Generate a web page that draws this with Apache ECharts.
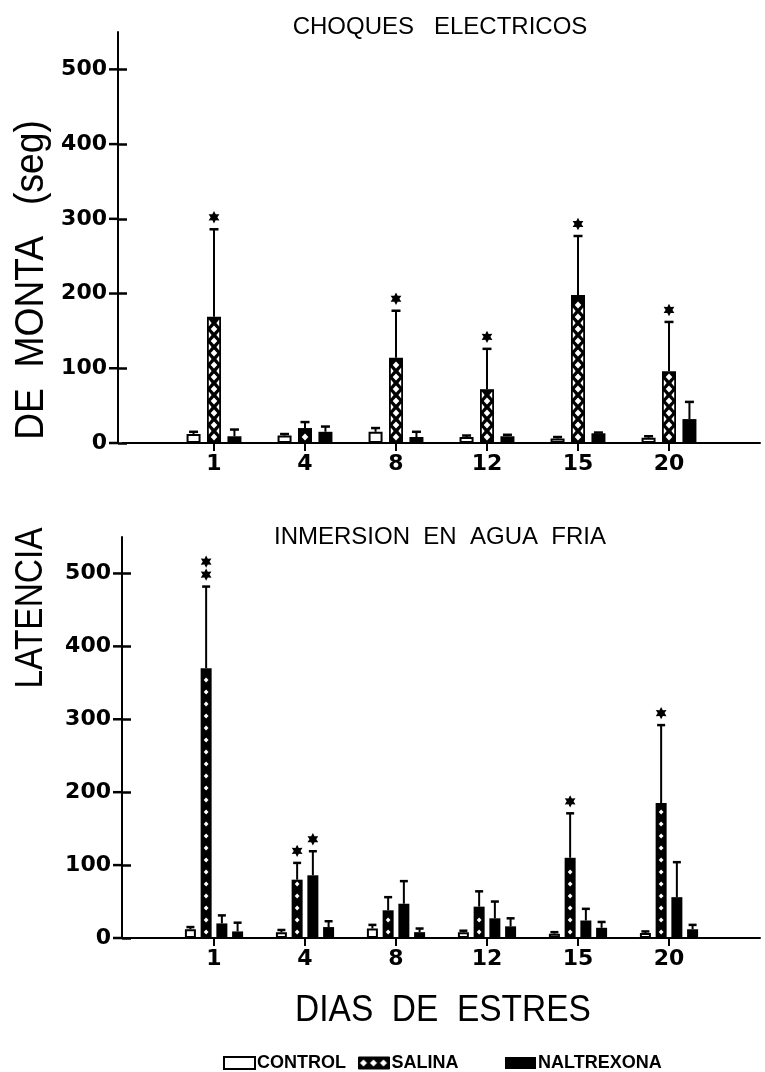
<!DOCTYPE html>
<html><head><meta charset="utf-8">
<script src="https://cdn.jsdelivr.net/npm/echarts@6.0.0/dist/echarts.min.js"></script>
<style>html,body{margin:0;padding:0;background:#fff}#c{width:765px;height:1072px}</style>
</head><body><div id="c"></div>
<script>
// ---------- data ----------
const days = ['1', '4', '8', '12', '15', '20'];
const yTicks = [0, 100, 200, 300, 400, 500];
const yMax = 550;

// CHOQUES ELECTRICOS (top panel): means and upper error
const shockControl = [12, 10, 15, 8, 6, 7];
const shockControlErr = [3, 2, 5, 2, 2, 2];
const shockSalina = [169, 20, 114, 72, 198, 96];
const shockSalinaErr = [117, 8, 63, 54, 79, 66];
const shockNaltrexona = [9, 15, 8, 9, 13, 32];
const shockNaltrexonaErr = [9, 7, 7, 2, 1, 23];
const shockSigSalina = [1, 0, 1, 1, 1, 1];

// INMERSION EN AGUA FRIA (bottom panel)
const coldControl = [12, 8, 13, 8, 6, 7];
const coldControlErr = [3, 3, 5, 2, 2, 2];
const coldSalina = [370, 80, 38, 43, 110, 185];
const coldSalinaErr = [112, 23, 18, 21, 61, 107];
const coldNaltrexona = [20, 86, 47, 27, 24, 56];
const coldNaltrexonaErr = [11, 33, 31, 23, 16, 48];
const coldNaltrexonaB = [9, 15, 8, 16, 14, 12];
const coldNaltrexonaBErr = [12, 8, 5, 11, 8, 6];
const coldSigSalina = [2, 1, 0, 0, 1, 1];
const coldSigNaltrexona = [0, 1, 0, 0, 0, 0];

const legendNames = ['CONTROL', 'SALINA', 'NALTREXONA'];

// ---------- helpers ----------
const cats = [''].concat(days, ['']);
const SANS = '"Liberation Sans", Arial, sans-serif';
const BOLD = '"DejaVu Sans", Verdana, sans-serif';
const GRID_LEFT = 123, GRID_W = 637;
const Y_OFF = [5, 1];

function pairs(arr) { return arr.map((v, i) => [i + 1, v]); }

function makeTile() {
  const c = document.createElement('canvas');
  c.width = 10; c.height = 12;
  const g = c.getContext('2d');
  g.fillStyle = '#000'; g.fillRect(0, 0, 10, 12);
  g.fillStyle = '#fff';
  g.beginPath(); g.moveTo(5, 2.5); g.lineTo(8.5, 6); g.lineTo(5, 9.5); g.lineTo(1.5, 6); g.closePath(); g.fill();
  return c;
}

function starPoints(cx, cy, R, r) {
  const pts = [];
  for (let k = 0; k < 12; k++) {
    const a = -Math.PI / 2 + k * Math.PI / 6;
    const rad = (k % 2) ? r : R;
    pts.push([cx + rad * Math.cos(a), cy + rad * Math.sin(a)]);
  }
  return pts;
}

function diamond(x, y, hw, hh) {
  return { type: 'polygon', shape: { points: [[x, y - hh], [x + hw, y], [x, y + hh], [x - hw, y]] }, style: { fill: '#fff' } };
}

function overlay(o) {
  return {
    type: 'custom', name: o.name + ' err', xAxisIndex: o.grid, yAxisIndex: o.grid,
    z: 5, silent: true, animation: false, clip: false,
    data: o.means.map((m, i) => [i + 1, m, o.errs[i], o.sig ? o.sig[i] : 0]),
    renderItem: function (params, api) {
      const ci = api.value(0), m = api.value(1), e = api.value(2), s = api.value(3);
      const p0 = api.coord([ci, 0]), p1 = api.coord([ci, m]), p2 = api.coord([ci, m + e]);
      const step = o.bw * (1 + o.gap);
      const x = p0[0] + (o.slot - (o.n - 1) / 2) * step;
      const ch = [];
      if (o.pattern === 'cross') {
        for (let y = p0[1] - 6; y - 3.5 >= p1[1] + 1.5; y -= 12) {
          ch.push(diamond(x, y, 3.3, 3.5));
          const yt = y - 6;
          if (yt - 3.5 >= p1[1] + 1.5) {
            const xl = x - o.bw / 2 + 1.8, xr = x + o.bw / 2 - 1.8;
            ch.push({ type: 'polygon', shape: { points: [[xl, yt - 3.5], [xl + 2.8, yt], [xl, yt + 3.5]] }, style: { fill: '#fff' } });
            ch.push({ type: 'polygon', shape: { points: [[xr, yt - 3.5], [xr - 2.8, yt], [xr, yt + 3.5]] }, style: { fill: '#fff' } });
          }
        }
      } else if (o.pattern === 'dots') {
        for (let y = p0[1] - 6; y - 2.5 >= p1[1] + 1.5; y -= 12) {
          ch.push(diamond(x, y, 2.4, 2.6));
        }
      }
      if (e > 0) {
        ch.push({ type: 'line', shape: { x1: x, y1: p1[1], x2: x, y2: p2[1] }, style: { stroke: '#000', lineWidth: 2 } });
        ch.push({ type: 'line', shape: { x1: x - o.cap / 2, y1: p2[1], x2: x + o.cap / 2, y2: p2[1] }, style: { stroke: '#000', lineWidth: 2.5 } });
      }
      for (let k = 0; k < s; k++) {
        ch.push({ type: 'polygon', shape: { points: starPoints(x, p2[1] - 12 - 13 * k, 6.2, 3.4) }, style: { fill: '#000' } });
      }
      return { type: 'group', children: ch };
    }
  };
}

function barSeries(name, grid, data, bw, gap, style) {
  return {
    type: 'bar', name: name, xAxisIndex: grid, yAxisIndex: grid,
    data: pairs(data), barWidth: bw, barGap: gap, itemStyle: style, z: 2, silent: true
  };
}

const ctrlStyle = { color: '#fff', borderColor: '#000', borderWidth: 2 };
const blackStyle = { color: '#000', borderColor: '#000', borderWidth: 0 };

const TB = 14, TG = 0.46;   // top bar width / gap ratio
const BB = 11, BG = 0.43;   // bottom

function xAxisDef(grid) {
  return {
    type: 'category', gridIndex: grid, data: cats, boundaryGap: false,
    axisLine: { show: true, onZero: true, lineStyle: { color: '#000', width: 2 } },
    axisTick: { show: true, length: 8, interval: function (i, v) { return v !== ''; }, lineStyle: { color: '#000', width: 2 } },
    axisLabel: { interval: 0, margin: 10, color: '#000', fontFamily: BOLD, fontWeight: 'bold', fontSize: 22 },
    splitLine: { show: false }
  };
}
// y axis: inner half of the "+" ticks from axisTick (inside), outer half drawn as part of the label
function yAxisDef(grid) {
  return {
    type: 'value', gridIndex: grid, min: 0, max: yMax, interval: 100, position: 'left', offset: Y_OFF[grid],
    axisLine: { show: true, onZero: false, lineStyle: { color: '#000', width: 2 } },
    axisTick: { show: true, inside: true, length: 9, customValues: yTicks, lineStyle: { color: '#000', width: 2.5 } },
    axisLabel: {
      show: true, margin: 0, customValues: yTicks,
      formatter: function (v) { return '{v|' + v + '}{g|}{t|}'; },
      rich: {
        v: { fontFamily: BOLD, fontWeight: 'bold', fontSize: 22, color: '#000' },
        g: { width: 2 },
        t: { width: 9, height: 2.5, backgroundColor: '#000' }
      }
    },
    splitLine: { show: false }
  };
}

const tile = makeTile();
const legendStyles = {
  CONTROL: { color: '#fff', borderColor: '#000', borderWidth: 2 },
  SALINA: { color: { image: tile, repeat: 'repeat' }, borderColor: '#000', borderWidth: 1 },
  NALTREXONA: { color: '#000', borderWidth: 0 }
};
const legendLeft = [223, 358, 505];

const option = {
  animation: false,
  backgroundColor: '#fff',
  title: [
    { text: 'CHOQUES   ELECTRICOS', left: 440, top: 15, textAlign: 'center', padding: 0,
      textStyle: { fontFamily: SANS, fontWeight: 'normal', fontSize: 24, color: '#000' } },
    { text: 'INMERSION  EN  AGUA  FRIA', left: 440, top: 525, textAlign: 'center', padding: 0,
      textStyle: { fontFamily: SANS, fontWeight: 'normal', fontSize: 24, color: '#000' } }
  ],
  legend: legendNames.map((nm, i) => ({
    left: legendLeft[i], top: 1054, orient: 'horizontal', itemWidth: 31, itemHeight: 12, icon: 'rect',
    selectedMode: false, padding: 0,
    textStyle: { fontFamily: SANS, fontWeight: 'bold', fontSize: 18, color: '#000', padding: [0, 0, 0, -3] },
    data: [{ name: nm, itemStyle: legendStyles[nm] }]
  })),
  grid: [
    { left: GRID_LEFT, top: 32, width: GRID_W, height: 411, outerBoundsMode: 'none', containLabel: false },
    { left: GRID_LEFT, top: 537, width: GRID_W, height: 401, outerBoundsMode: 'none', containLabel: false }
  ],
  xAxis: [xAxisDef(0), xAxisDef(1)],
  yAxis: [yAxisDef(0), yAxisDef(1)],
  graphic: [
    { type: 'text', x: 32, y: 280, rotation: Math.PI / 2, scaleX: 0.93, silent: true,
      style: { text: 'DE  MONTA   (seg)', fontFamily: SANS, fontSize: 40, fill: '#000', align: 'center', verticalAlign: 'middle' } },
    { type: 'text', x: 32, y: 608, rotation: Math.PI / 2, scaleX: 0.88, silent: true,
      style: { text: 'LATENCIA', fontFamily: SANS, fontSize: 38, fill: '#000', align: 'center', verticalAlign: 'middle' } },
    { type: 'text', x: 443, y: 1011, scaleX: 0.93, silent: true,
      style: { text: 'DIAS  DE  ESTRES', fontFamily: SANS, fontSize: 36, fill: '#000', align: 'center', verticalAlign: 'middle' } }
  ],
  series: [
    barSeries('CONTROL', 0, shockControl, TB, TG * 100 + '%', ctrlStyle),
    barSeries('SALINA', 0, shockSalina, TB, TG * 100 + '%', blackStyle),
    barSeries('NALTREXONA', 0, shockNaltrexona, TB, TG * 100 + '%', blackStyle),
    barSeries('CONTROL', 1, coldControl, BB, BG * 100 + '%', ctrlStyle),
    barSeries('SALINA', 1, coldSalina, BB, BG * 100 + '%', blackStyle),
    barSeries('NALTREXONA', 1, coldNaltrexona, BB, BG * 100 + '%', blackStyle),
    barSeries('NALTREXONA B', 1, coldNaltrexonaB, BB, BG * 100 + '%', blackStyle),
    overlay({ name: 'CONTROL', grid: 0, means: shockControl, errs: shockControlErr, slot: 0, n: 3, bw: TB, gap: TG, cap: 9 }),
    overlay({ name: 'SALINA', grid: 0, means: shockSalina, errs: shockSalinaErr, sig: shockSigSalina, slot: 1, n: 3, bw: TB, gap: TG, cap: 9, pattern: 'cross' }),
    overlay({ name: 'NALTREXONA', grid: 0, means: shockNaltrexona, errs: shockNaltrexonaErr, slot: 2, n: 3, bw: TB, gap: TG, cap: 9 }),
    overlay({ name: 'CONTROL', grid: 1, means: coldControl, errs: coldControlErr, slot: 0, n: 4, bw: BB, gap: BG, cap: 8 }),
    overlay({ name: 'SALINA', grid: 1, means: coldSalina, errs: coldSalinaErr, sig: coldSigSalina, slot: 1, n: 4, bw: BB, gap: BG, cap: 8, pattern: 'dots' }),
    overlay({ name: 'NALTREXONA', grid: 1, means: coldNaltrexona, errs: coldNaltrexonaErr, sig: coldSigNaltrexona, slot: 2, n: 4, bw: BB, gap: BG, cap: 8 }),
    overlay({ name: 'NALTREXONA B', grid: 1, means: coldNaltrexonaB, errs: coldNaltrexonaBErr, slot: 3, n: 4, bw: BB, gap: BG, cap: 8 })
  ]
};

const chart = echarts.init(document.getElementById('c'), null, { renderer: 'canvas' });
chart.setOption(option);
</script>
</body></html>
